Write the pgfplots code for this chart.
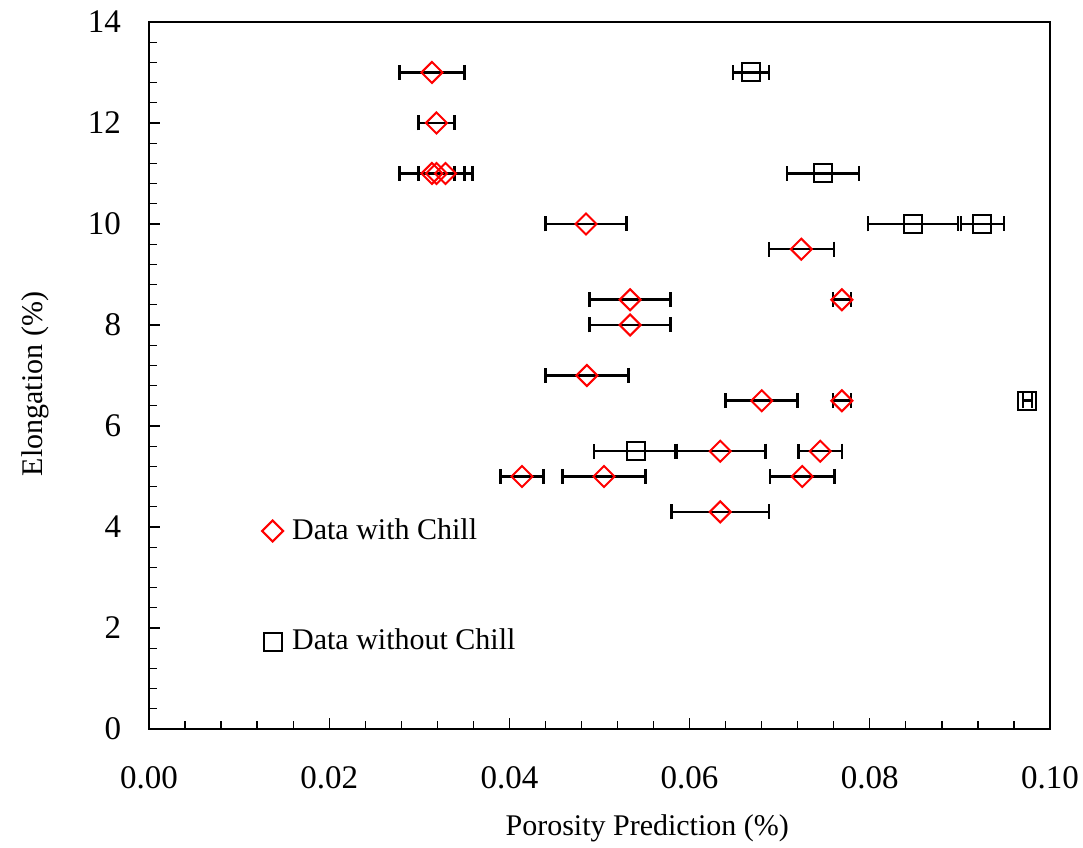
\documentclass[border=0pt]{standalone}
\usepackage{fontspec}
\setmainfont{Liberation Serif}
\usepackage{pgfplots}
\pgfplotsset{compat=1.18}
\usepackage{pgfplotstable}

% x, y, half-width of the x error bar
\pgfplotstableread{
x       y     ex
0.0314  13    0.0036
0.0319  12    0.0020
0.0314  11    0.0036
0.0319  11    0.0020
0.0329  11    0.0030
0.0485  10    0.0045
0.0724  9.5   0.0036
0.0534  8.5   0.0045
0.0769  8.5   0.0010
0.0534  8     0.0045
0.0486  7     0.0046
0.0680  6.5   0.0040
0.0769  6.5   0.0010
0.0634  5.5   0.0050
0.0745  5.5   0.0024
0.0414  5     0.0024
0.0505  5     0.0046
0.0725  5     0.0036
0.0634  4.3   0.0054
}\withchill

\pgfplotstableread{
x       y     ex
0.0668  13    0.0020
0.0748  11    0.0040
0.0848  10    0.0050
0.0925  10    0.0024
0.0975  6.5   0.0005
0.0540  5.5   0.0046
}\withoutchill

\begin{document}
\fontsize{12}{14}\selectfont
\begin{tikzpicture}
% fixed page size around the plot area
\useasboundingbox (-59.6pt,-47.6pt) rectangle (373.6pt,291.6pt);
\begin{axis}[
  at={(0,0)}, anchor=south west,
  scale only axis,
  width=360.4pt, height=282.8pt,
  xmin=0, xmax=0.10, ymin=0, ymax=14,
  xtick={0,0.02,...,0.1},
  ytick={0,2,...,14},
  minor x tick num=4,
  minor y tick num=4,
  tick align=inside,
  xtick pos=bottom, ytick pos=left,
  major tick length=4.5pt, minor tick length=3.3pt,
  tick style={black, line width=0.5pt},
  axis line style={line width=0.8pt},
  /pgf/number format/assume math mode=true,
  tick label style={font=\fontsize{13.2}{16}\selectfont},
  xticklabel style={/pgf/number format/fixed, /pgf/number format/fixed zerofill, /pgf/number format/precision=2, yshift=-11pt},
  yticklabel style={xshift=-7pt},
  scaled x ticks=false,
  xlabel={Porosity Prediction (\%)},
  ylabel={Elongation (\%)},
  xlabel style={at={(axis description cs:0.553,-0.140)}, anchor=center},
  ylabel style={at={(axis description cs:-0.126,0.488)}, anchor=center},
  legend style={draw=none, fill=none, at={(axis cs:0.0125,4.28)}, anchor=north west,
    row sep=30.2pt, inner sep=0pt},
  legend cell align=left,
  error bars/error bar style={black, line width=1pt},
  error bars/error mark options={black, line width=1pt, mark size=3pt, rotate=90},
]
\addplot[only marks, mark=square, mark size=2.97pt, mark options={rotate=45, red, line width=0.8pt, fill=white},
  error bars/.cd, x dir=both, x explicit]
  table[x=x, y=y, x error=ex] {\withchill};
\addlegendentry{\hspace*{1.6pt}Data with Chill}
\addplot[only marks, mark=square, mark size=3.6pt, mark options={black, line width=0.8pt, fill=white},
  error bars/.cd, x dir=both, x explicit]
  table[x=x, y=y, x error=ex] {\withoutchill};
\addlegendentry{\hspace*{1.6pt}Data without Chill}
\end{axis}
\end{tikzpicture}
\end{document}
